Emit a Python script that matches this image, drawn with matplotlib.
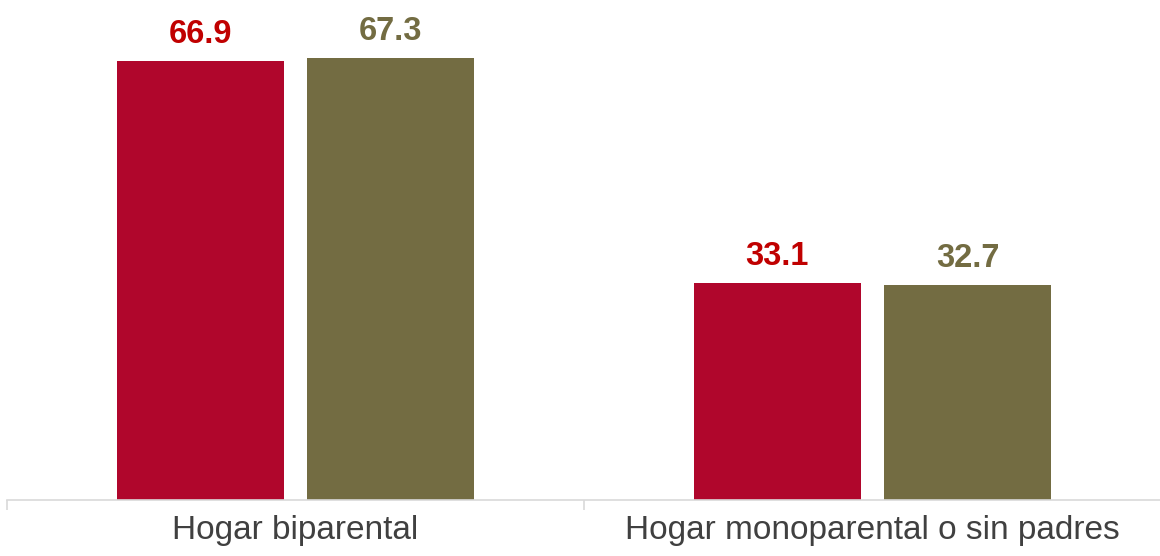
import matplotlib.pyplot as plt
import numpy as np

categorias = ['Hogar biparental', 'Hogar monoparental o sin padres']
serie_roja = [66.9, 33.1]
serie_olivo = [67.3, 32.7]

rojo = '#B0062C'
olivo = '#736C42'

plt.rcParams['font.family'] = ['Liberation Sans', 'DejaVu Sans']

fig = plt.figure(figsize=(11.6, 5.56), dpi=100)
ax = fig.add_axes([7 / 1160, 56 / 556, 1154 / 1160, 500 / 556])

x = np.arange(len(categorias))
ancho = 0.29
desp = 0.165

barras1 = ax.bar(x - desp, serie_roja, ancho, color=rojo)
barras2 = ax.bar(x + desp, serie_olivo, ancho, color=olivo)

# etiquetas de valor encima de las barras
for b, v in zip(barras1, serie_roja):
    ax.annotate('%.1f' % v, (b.get_x() + b.get_width() / 2, v), xytext=(0, 8),
                textcoords='offset points', ha='center', va='bottom',
                fontsize=23.5, fontweight='bold', color='#C00000')
for b, v in zip(barras2, serie_olivo):
    ax.annotate('%.1f' % v, (b.get_x() + b.get_width() / 2, v), xytext=(0, 8),
                textcoords='offset points', ha='center', va='bottom',
                fontsize=23.5, fontweight='bold', color=olivo)

ax.set_xlim(-0.5, 1.5)
ax.set_ylim(0, 76.2)

ax.set_xticks(x)
ax.set_xticklabels(categorias, fontsize=24, color='#404040')
ax.tick_params(axis='x', which='major', length=0, pad=11)
ax.set_xticks([-0.5, 0.5, 1.5], minor=True)
ax.tick_params(axis='x', which='minor', length=7, color='#D9D9D9', width=1.2)
ax.set_yticks([])

for lado in ['top', 'right', 'left']:
    ax.spines[lado].set_visible(False)
ax.spines['bottom'].set_color('#D9D9D9')
ax.spines['bottom'].set_linewidth(1.2)

fig.savefig('out.png', dpi=100)
